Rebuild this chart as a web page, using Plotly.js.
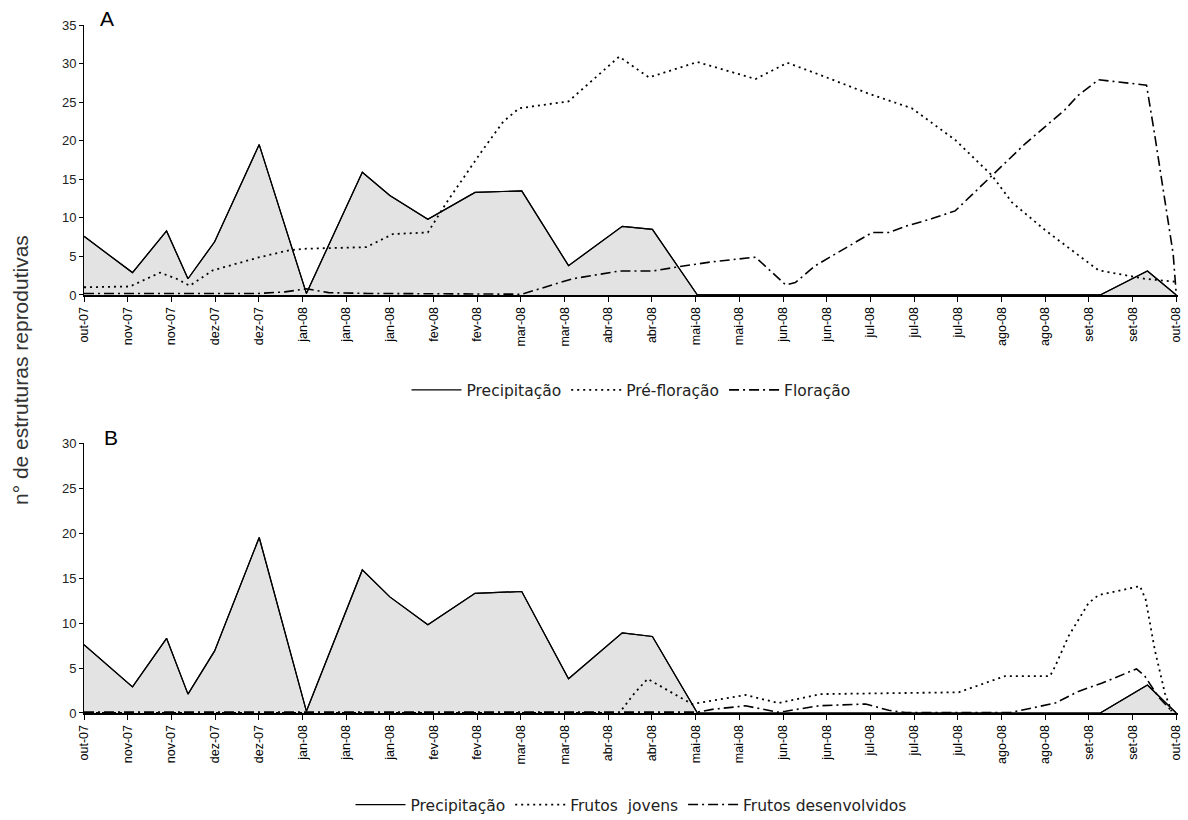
<!DOCTYPE html>
<html>
<head>
<meta charset="utf-8">
<script src="https://cdn.plot.ly/plotly-3.0.1.min.js"></script>
<style>html,body{margin:0;padding:0;background:#fff;}#chart{width:1188px;height:820px;}</style>
</head>
<body>
<div id="chart"></div>
<script>
// Tick labels (equally spaced sampling dates)
const tickLabels = ["out-07","nov-07","nov-07","dez-07","dez-07","jan-08","jan-08","jan-08","fev-08","fev-08","mar-08","mar-08","abr-08","abr-08","mai-08","mai-08","jun-08","jun-08","jul-08","jul-08","jul-08","ago-08","ago-08","set-08","set-08","out-08"];

// Precipitação (same in both panels); x in tick-index units
const precipX = [0, 1.11, 1.89, 2.38, 2.99, 4.01, 5.09, 6.37, 7.0, 7.87, 8.95, 9.45, 10.02, 11.09, 12.32, 13.01, 14.04, 23.26, 24.34, 25.0];
const precipY = [7.6, 2.9, 8.3, 2.1, 6.9, 19.5, 0.2, 15.9, 12.9, 9.8, 13.3, 13.4, 13.5, 3.8, 8.9, 8.5, 0, 0, 3.1, 0];

// Panel A: Pré-floração
const preX = [0, 1.05, 1.74, 2.12, 2.42, 2.95, 4.02, 4.7, 5.09, 6.46, 7.07, 7.87, 8.3, 9.1, 9.6, 9.96, 11.09, 12.25, 12.93, 14.04, 15.37, 16.1, 16.86, 17.96, 18.95, 19.94, 20.78, 21.24, 22.0, 23.22, 24.28, 25.0];
const preY = [1.0, 1.1, 2.9, 2.1, 1.2, 3.2, 4.9, 5.8, 6.0, 6.2, 7.9, 8.1, 12.0, 18.6, 22.5, 24.2, 25.1, 30.9, 28.2, 30.2, 28.0, 30.1, 28.5, 26.1, 24.2, 20.1, 15.5, 12.0, 8.4, 3.2, 2.1, 1.7];

// Panel A: Floração
const florX = [0, 4.0, 4.6, 5.09, 5.6, 6.5, 10.02, 11.18, 12.25, 13.01, 13.54, 14.38, 15.37, 16.06, 16.28, 16.74, 18.04, 18.42, 18.8, 19.41, 19.94, 20.78, 21.54, 22.45, 22.76, 23.22, 24.32, 24.5, 24.74, 24.93, 25.0];
const florY = [0.2, 0.2, 0.4, 0.8, 0.3, 0.2, 0.1, 2.1, 3.1, 3.1, 3.6, 4.3, 4.9, 1.3, 1.6, 3.8, 8.1, 8.1, 8.9, 9.9, 10.9, 15.5, 19.6, 24.0, 25.9, 27.9, 27.2, 21.0, 12.3, 5.3, 0.1];

// Panel B: Frutos jovens
const jovX = [0, 12.25, 12.6, 12.9, 13.62, 13.92, 15.14, 15.9, 16.86, 20.02, 21.08, 22.11, 22.23, 22.53, 22.99, 23.22, 24.17, 24.3, 24.51, 24.74, 24.89];
const jovY = [0, 0, 2.2, 3.8, 1.8, 1.0, 2.0, 1.1, 2.1, 2.3, 4.1, 4.1, 5.2, 8.5, 12.2, 13.1, 14.1, 12.6, 7.0, 2.2, 0.2];

// Panel B: Frutos desenvolvidos
const desX = [0, 14.04, 14.38, 15.14, 15.87, 16.06, 16.82, 17.89, 18.42, 18.8, 21.2, 21.81, 22.23, 22.76, 23.29, 24.09, 24.28, 24.59, 24.86];
const desY = [0.1, 0.1, 0.4, 0.8, 0.1, 0.2, 0.8, 1.0, 0.3, 0.05, 0.05, 0.7, 1.1, 2.4, 3.3, 4.9, 4.1, 1.8, 0.4];

const tickVals = tickLabels.map((_, i) => i);
const FONT = "Liberation Sans, Arial, sans-serif";
const LEGFONT = "DejaVu Sans, Liberation Sans, sans-serif";
const dotted = "2px,4px";
const dashDot = "10px,4px,2px,4px";

const traces = [
  // Panel A
  {x: precipX, y: precipY, xaxis: "x", yaxis: "y", type: "scatter", mode: "lines", fill: "tozeroy", fillcolor: "#e3e3e3", line: {color: "#000", width: 1.2}, showlegend: false, hoverinfo: "skip"},
  {x: precipX, y: precipY, xaxis: "x", yaxis: "y", type: "scatter", mode: "lines", name: "Precipitação", line: {color: "#000", width: 1.2}, legend: "legend"},
  {x: preX, y: preY, xaxis: "x", yaxis: "y", type: "scatter", mode: "lines", name: "Pré-floração", line: {color: "#000", width: 1.8, dash: dotted}, legend: "legend"},
  {x: florX, y: florY, xaxis: "x", yaxis: "y", type: "scatter", mode: "lines", name: "Floração", line: {color: "#000", width: 1.6, dash: dashDot}, legend: "legend"},
  // Panel B
  {x: precipX, y: precipY, xaxis: "x2", yaxis: "y2", type: "scatter", mode: "lines", fill: "tozeroy", fillcolor: "#e3e3e3", line: {color: "#000", width: 1.2}, showlegend: false, hoverinfo: "skip"},
  {x: precipX, y: precipY, xaxis: "x2", yaxis: "y2", type: "scatter", mode: "lines", name: "Precipitação", line: {color: "#000", width: 1.2}, legend: "legend2"},
  {x: jovX, y: jovY, xaxis: "x2", yaxis: "y2", type: "scatter", mode: "lines", name: "Frutos  jovens", line: {color: "#000", width: 1.8, dash: dotted}, legend: "legend2"},
  {x: desX, y: desY, xaxis: "x2", yaxis: "y2", type: "scatter", mode: "lines", name: "Frutos desenvolvidos", line: {color: "#000", width: 1.6, dash: dashDot}, legend: "legend2"}
];

function xAxis(anchor) {
  return {
    anchor: anchor, range: [0, 25.04], tickmode: "array", tickvals: tickVals, ticktext: tickLabels,
    tickangle: -90, ticks: "outside", ticklen: 5, tickwidth: 1, tickcolor: "#000",
    showline: true, linecolor: "#000", linewidth: 2, showgrid: false, zeroline: false,
    tickfont: {family: FONT, size: 12.5, color: "#000"}, fixedrange: true, automargin: false
  };
}
function yAxis(domain, max, anchor) {
  return {
    domain: domain, anchor: anchor, range: [0, max], dtick: 5, tick0: 0,
    ticks: "outside", ticklen: 4, tickcolor: "#000",
    showline: true, linecolor: "#000", linewidth: 1, showgrid: false, zeroline: false,
    tickfont: {family: FONT, size: 13, color: "#222"}, automargin: false
  };
}

const layout = {
  width: 1188, height: 820,
  margin: {l: 84, r: 10, t: 25, b: 107, autoexpand: false},
  paper_bgcolor: "#fff", plot_bgcolor: "#fff",
  font: {family: FONT, color: "#000"},
  xaxis: xAxis("y"),
  yaxis: yAxis([0.6076, 1], 35, "x"),
  xaxis2: xAxis("y2"),
  yaxis2: yAxis([0, 0.3924], 30, "x2"),
  legend: {orientation: "h", x: 0.5, xanchor: "center", y: 0.469, yanchor: "middle", itemwidth: 50, font: {family: LEGFONT, size: 15.5, color: "#222"}, bgcolor: "rgba(0,0,0,0)"},
  legend2: {orientation: "h", x: 0.5, xanchor: "center", yref: "container", y: 0.0183, yanchor: "middle", itemwidth: 50, font: {family: LEGFONT, size: 15.5, color: "#222"}, bgcolor: "rgba(0,0,0,0)"},
  annotations: [
    {text: "A", xref: "paper", yref: "paper", x: 0.021, y: 1.010, xanchor: "center", yanchor: "middle", showarrow: false, font: {family: FONT, size: 21, color: "#000"}},
    {text: "B", xref: "paper", yref: "paper", x: 0.025, y: 0.40, xanchor: "center", yanchor: "middle", showarrow: false, font: {family: FONT, size: 21, color: "#000"}},
    {text: "n° de estruturas reprodutivas", xref: "paper", yref: "paper", x: -0.0585, y: 0.4985, xanchor: "center", yanchor: "middle", textangle: -90, showarrow: false, font: {family: FONT, size: 21, color: "#333"}}
  ]
};

Plotly.newPlot("chart", traces, layout, {displayModeBar: false, staticPlot: true});
</script>
</body>
</html>
